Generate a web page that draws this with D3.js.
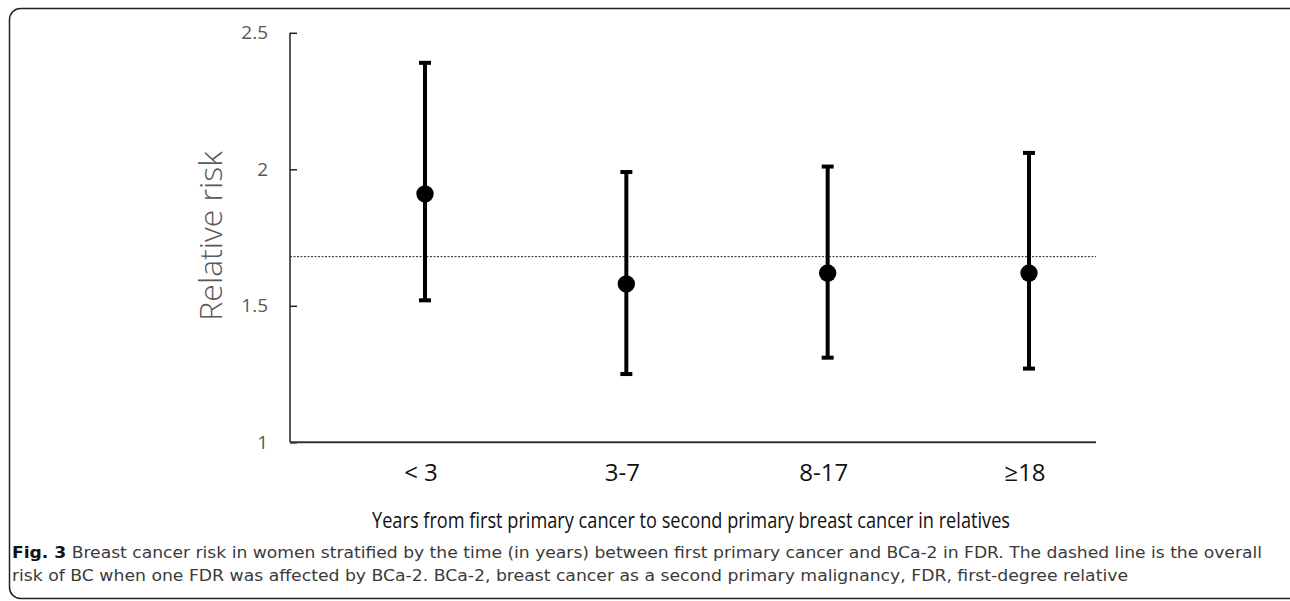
<!DOCTYPE html>
<html>
<head>
<meta charset="utf-8">
<script src="https://cdn.jsdelivr.net/npm/d3@7"></script>
<style>
  body { margin: 0; background: #fff; }
  svg { display: block; }
</style>
</head>
<body>
<div id="chart"></div>
<script>
// Data
var categories = ["< 3", "3-7", "8-17", "≥18"];
var riskValues = [1.91, 1.58, 1.62, 1.62];
var lowerCI = [1.52, 1.25, 1.31, 1.27];
var upperCI = [2.39, 1.99, 2.01, 2.06];
var overallRisk = 1.68;
var yTicks = [1, 1.5, 2, 2.5];

var width = 1290, height = 601;

var svg = d3.select("#chart").append("svg")
    .attr("width", width)
    .attr("height", height);

// Frame around the figure
svg.append("rect")
    .attr("x", 9.5).attr("y", 8.5)
    .attr("width", 1290).attr("height", 590)
    .attr("rx", 11)
    .attr("fill", "none")
    .attr("stroke", "#222")
    .attr("stroke-width", 1.5);

// Scales
var plot = {left: 290, right: 1096, top: 32.8, bottom: 442.3};

var y = d3.scaleLinear()
    .domain([1, 2.5])
    .range([plot.bottom, plot.top]);

var x = d3.scalePoint()
    .domain(categories)
    .range([425, 1029]);

// Y axis (ticks point inward)
var yAxis = svg.append("g")
    .attr("transform", "translate(" + plot.left + ",0)")
    .call(d3.axisRight(y).tickValues(yTicks).tickSize(7).tickFormat(d3.format("")));

yAxis.select(".domain").remove();
yAxis.selectAll(".tick line").attr("stroke", "#222").attr("stroke-width", 1.5);
yAxis.selectAll(".tick text").remove();

svg.append("line")
    .attr("x1", plot.left).attr("x2", plot.left)
    .attr("y1", y(2.5)).attr("y2", y(1))
    .attr("stroke", "#222").attr("stroke-width", 1.5);

svg.selectAll(".ylabel")
    .data(yTicks)
    .enter().append("text")
    .attr("class", "ylabel")
    .attr("x", 268)
    .attr("y", d => y(d))
    .attr("dy", "0.35em")
    .attr("text-anchor", "end")
    .attr("fill", "#595959")
    .style("font-family", "'Open Sans', sans-serif")
    .style("font-size", "19px")
    .text(d => d);

// X axis line
svg.append("line")
    .attr("x1", plot.left).attr("x2", plot.right)
    .attr("y1", y(1)).attr("y2", y(1))
    .attr("stroke", "#333").attr("stroke-width", 2);

svg.selectAll(".xlabel")
    .data(categories)
    .enter().append("text")
    .attr("class", "xlabel")
    .attr("x", d => x(d) - 4)
    .attr("y", 481)
    .attr("text-anchor", "middle")
    .attr("fill", "#111")
    .style("font-family", "'Open Sans', sans-serif")
    .style("font-size", "24px")
    .text(d => d);

// Dashed overall risk line
svg.append("line")
    .attr("x1", plot.left).attr("x2", plot.right)
    .attr("y1", y(overallRisk)).attr("y2", y(overallRisk))
    .attr("stroke", "#222")
    .attr("stroke-width", 1)
    .attr("stroke-dasharray", "2,1.5");

// Error bars
var bars = svg.selectAll(".errbar")
    .data(categories)
    .enter().append("g")
    .attr("class", "errbar");

bars.append("line")
    .attr("x1", d => x(d)).attr("x2", d => x(d))
    .attr("y1", (d, i) => y(upperCI[i]))
    .attr("y2", (d, i) => y(lowerCI[i]))
    .attr("stroke", "#000").attr("stroke-width", 4);

[upperCI, lowerCI].forEach(function(arr) {
  bars.append("line")
      .attr("x1", d => x(d) - 6).attr("x2", d => x(d) + 6)
      .attr("y1", (d, i) => y(arr[i]))
      .attr("y2", (d, i) => y(arr[i]))
      .attr("stroke", "#000").attr("stroke-width", 4);
});

bars.append("circle")
    .attr("cx", d => x(d))
    .attr("cy", (d, i) => y(riskValues[i]))
    .attr("r", 8.7)
    .attr("fill", "#000");

// Axis titles
svg.append("text")
    .attr("transform", "translate(222,236) rotate(-90)")
    .attr("text-anchor", "middle")
    .attr("fill", "#595959")
    .style("font-family", "'Open Sans', sans-serif")
    .style("font-weight", 300)
    .style("font-size", "32px")
    .text("Relative risk");

svg.append("text")
    .attr("x", 372)
    .attr("y", 528)
    .attr("textLength", 638)
    .attr("lengthAdjust", "spacingAndGlyphs")
    .attr("fill", "#111")
    .style("font-family", "'Open Sans', sans-serif")
    .style("font-size", "21px")
    .text("Years from first primary cancer to second primary breast cancer in relatives");

// Caption
var capFont = "'DejaVu Sans Condensed', 'Open Sans', sans-serif";
var cap1 = svg.append("text")
    .attr("x", 12)
    .attr("y", 558)
    .attr("textLength", 1250)
    .attr("lengthAdjust", "spacingAndGlyphs")
    .style("font-family", capFont)
    .style("font-stretch", "condensed")
    .style("font-size", "16px")
    .attr("fill", "#3a3a3a");
cap1.append("tspan").style("font-weight", "bold").attr("fill", "#111").text("Fig. 3");
cap1.append("tspan").text(" Breast cancer risk in women stratified by the time (in years) between first primary cancer and BCa-2 in FDR. The dashed line is the overall");

svg.append("text")
    .attr("x", 12)
    .attr("y", 581)
    .attr("textLength", 1116)
    .attr("lengthAdjust", "spacingAndGlyphs")
    .style("font-family", capFont)
    .style("font-stretch", "condensed")
    .style("font-size", "16px")
    .attr("fill", "#3a3a3a")
    .text("risk of BC when one FDR was affected by BCa-2. BCa-2, breast cancer as a second primary malignancy, FDR, first-degree relative");
</script>
</body>
</html>
